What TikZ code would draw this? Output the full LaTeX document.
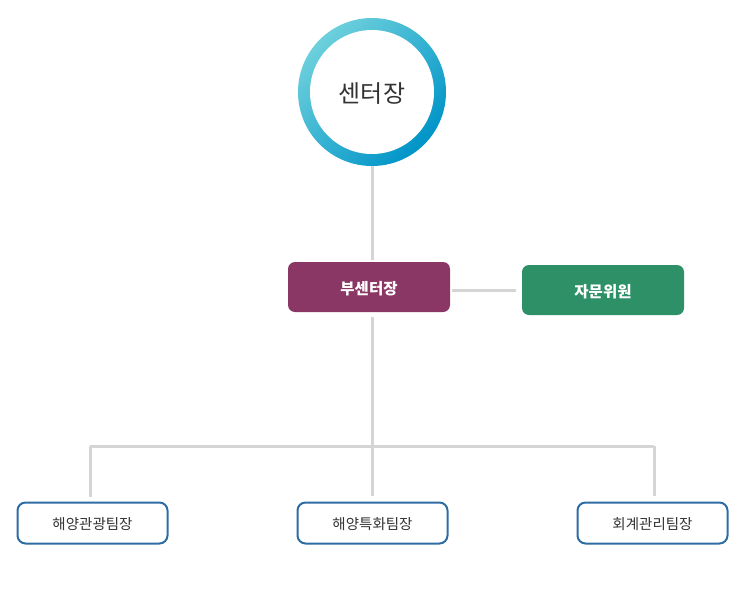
\documentclass[tikz,border=0pt]{standalone}
\usepackage{fontspec}
\newfontfamily\kr{Noto Sans CJK KR}
\usetikzlibrary{shadings}
\definecolor{conn}{HTML}{D5D5D5}
\definecolor{purp}{HTML}{8A3766}
\definecolor{grn}{HTML}{2E9066}
\definecolor{bluebd}{HTML}{2E6DA4}
\definecolor{txt}{HTML}{333333}
\definecolor{ringA}{HTML}{6DD0DC}
\definecolor{ringB}{HTML}{0094C8}
\begin{document}
\begin{tikzpicture}[x=1pt,y=-1pt,
  conline/.style={draw=conn,line width=3pt},
  filledbox/.style={rounded corners=7pt,minimum width=162pt,minimum height=50pt,inner sep=0pt},
  boxtext/.style={text=white,font=\kr\bfseries\fontsize{15.5}{18}\selectfont,inner sep=0pt},
  teambox/.style={draw=bluebd,line width=2pt,fill=white,rounded corners=8pt,minimum width=150pt,minimum height=41pt,inner sep=0pt},
  teamtext/.style={text=txt,font=\kr\fontsize{14.5}{17}\selectfont,inner sep=0pt}]
\useasboundingbox (0,0) rectangle (748,600);
% ring
\shade[left color=ringA,right color=ringB,shading angle=45] (372,92) circle (74pt);
\fill[white] (372,92) circle (62pt);
\node[circle,minimum size=148pt,inner sep=0pt,label={[text=txt,font=\kr\fontsize{24}{28}\selectfont,yshift=-2pt]center:센터장}] (ceo) at (372,92) {};
% boxes
\node[filledbox,fill=purp,label={[boxtext,yshift=-1.5pt]center:부센터장}] (vice) at (369,287) {};
\node[filledbox,fill=grn,label={[boxtext,yshift=-1.5pt]center:자문위원}] (adv) at (603,290) {};
\node[teambox,label={[teamtext,yshift=-1pt]center:해양관광팀장}] (t1) at (92.5,523) {};
\node[teambox,label={[teamtext,yshift=-1pt]center:해양특화팀장}] (t2) at (372.5,523) {};
\node[teambox,label={[teamtext,yshift=-1pt]center:회계관리팀장}] (t3) at (652.5,523) {};
% connectors
\coordinate (v1) at (372,166);
\coordinate (v2) at (372,260);
\draw[conline] (v1) -- (v2);
\coordinate (h1) at (452,290);
\coordinate (h2) at (516,290);
\draw[conline] (h1) -- (h2);
\coordinate (d0) at (372,317);
\coordinate (j) at (372,446);
\coordinate (jl) at (90,446);
\coordinate (jr) at (654,446);
\draw[conline] (d0) -- (j);
\draw[conline] (jl) -- (jr);
\coordinate (e1) at (90,497);
\coordinate (e2) at (372,496);
\coordinate (e3) at (654,496);
\draw[conline] (jl) -- (e1);
\draw[conline] (j) -- (e2);
\draw[conline] (jr) -- (e3);
\end{tikzpicture}
\end{document}
